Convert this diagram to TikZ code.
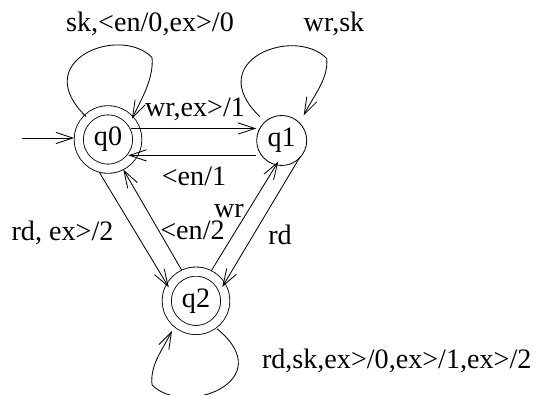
\documentclass[tikz,border=0pt]{standalone}
\usepackage{fontspec}
\setmainfont{Liberation Serif}
\usetikzlibrary{arrows.meta}

\begin{document}
\begin{tikzpicture}[x=0.025cm, y=-0.025cm, line width=0.6pt,
  font=\fontsize{20}{24}\selectfont,
  >={Straight Barb[length=12pt,width=8pt]},
  state/.style={circle, draw, minimum size=1.25cm, inner sep=0pt},
  accepting/.style={state, double, double distance=5.9pt, minimum size=1.46cm, outer sep=3.3pt},
  lbl/.style={anchor=base, inner sep=0pt}]

\useasboundingbox (0,0) rectangle (538,394);

% States
\node [accepting] (q0) at (108,139.5) {q0};
\node [state] (q1) at (281.7,140.5) {q1};
\node [accepting] (q2) at (196,300.8) {q2};

% Start arrow
\coordinate (start) at (22,138);
\draw [->] (start) -- (start -| q0.west);

% Transitions
\draw [->, shorten <=-2.2mm] (q0.19) -- (q0.19 -| q1.west);
\draw [->, shorten >=-2.4mm] (q1.west |- q0.-28) -- (q0.-28);
\draw [->, shorten >=-1mm] (q0.255) -- (q2.150);
\draw [->] (q2.115) -- (q0.-63);
\draw [->, shorten >=-1.1mm] (q2.63) -- (q1.-103);
\draw [->, shorten <=-1mm, shorten >=-1.2mm] (q1.-49) -- (q2.32);

% Loops
\draw [->] ([shift={(-22,-23)}]q0.center) .. controls +(-58,-56) and +(-32,-33) .. ([shift={(44,-82)}]q0.center)
  .. controls +(2,20) and +(10,-20) .. ([shift={(24,-21)}]q0.center);
\draw [->] ([shift={(-22,-24)}]q1.center) .. controls +(-58,-56) and +(-32,-33) .. ([shift={(45,-82)}]q1.center)
  .. controls +(2,20) and +(10,-20) .. ([shift={(22,-25)}]q1.center);
\draw [->] ([shift={(21,28)}]q2.center) .. controls +(64,52) and +(32,33) .. ([shift={(-44,84)}]q2.center)
  .. controls +(-2,-20) and +(-10,20) .. ([shift={(-24,30)}]q2.center);

% Labels
\node [lbl] (l00) at (150,31.7) {sk,<en/0,ex>/0};
\node [lbl] (l11) at (334,31.7) {wr,sk};
\node [lbl] (l01) at (195,116.7) {wr,ex>/1};
\node [lbl] (l10) at (194,185.7) {<en/1};
\node [lbl] (l02) at (62.5,240.7) {rd, ex>/2};
\node [lbl] (l20) at (192.5,239.3) {<en/2};
\node [lbl] (l21) at (229,217) {wr};
\node [lbl] (l12) at (280,244) {rd};
\node [lbl] (l22) at (396.7,368.3) {rd,sk,ex>/0,ex>/1,ex>/2};
\end{tikzpicture}
\end{document}
